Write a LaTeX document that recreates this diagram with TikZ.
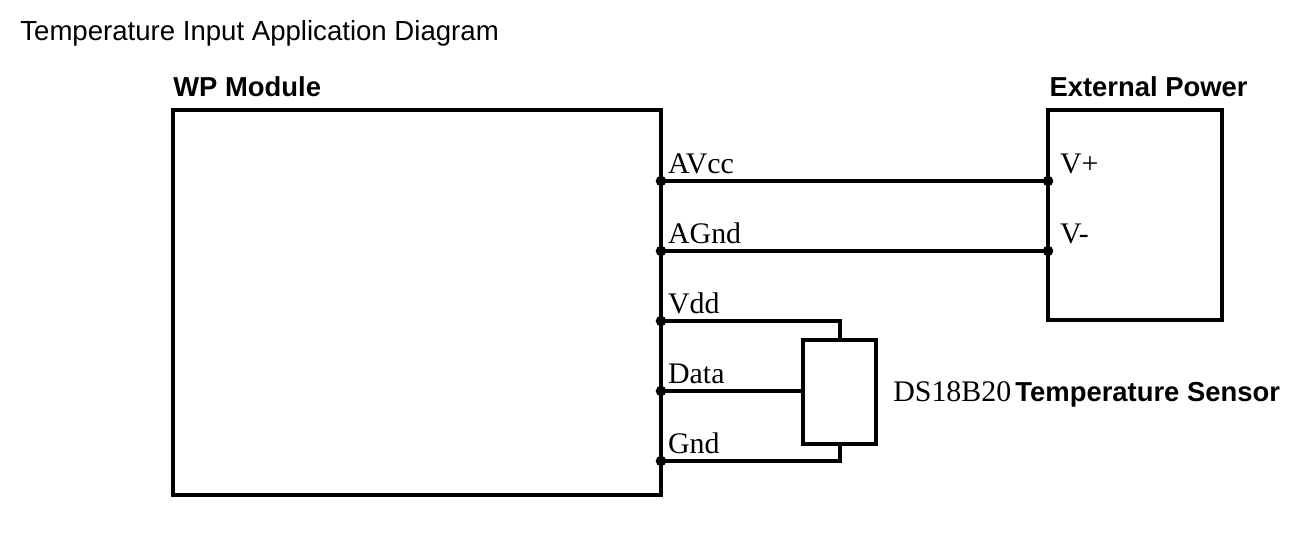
\documentclass[tikz,border=0pt]{standalone}
\usepackage{fontspec}
\setmainfont{Liberation Serif}
\newfontfamily\sansf{Liberation Sans}
\usetikzlibrary{positioning}

\tikzset{
  box/.style = {draw, line width=1.8pt, inner sep=0pt},
  wire/.style = {line width=1.8pt},
  pin/.style = {font=\fontsize{17}{19}\selectfont, anchor=south west, inner sep=1pt},
  dot/.style = {circle, fill, inner sep=0pt, minimum size=6pt},
  head/.style = {font=\sansf\bfseries\fontsize{15.6}{18}\selectfont, inner sep=0pt}
}

\begin{document}
\begin{tikzpicture}[x=0.2mm, y=-0.2mm]
    \useasboundingbox (0,0) rectangle (1302,554);
    \node [anchor=west, inner sep=0pt, font=\sansf\fontsize{15.7}{18}\selectfont] (title) at (20,33) {Temperature Input Application Diagram};

    % boxes
    \draw [box] (173,110) rectangle (661,495);
    \draw [box] (1048,110) rectangle (1222,320);
    \draw [box] (803,340) rectangle (876,444);
    \node [head, anchor=south west] (wp) at (173,97) {WP Module};
    \node [head, anchor=south east] (ext) at (1248,97) {External Power};

    % junctions on module edge
    \node [dot] (avcc) at (661,181) {};
    \node [dot] (agnd) at (661,251) {};
    \node [dot] (vdd)  at (661,321) {};
    \node [dot] (data) at (661,391) {};
    \node [dot] (gnd)  at (661,461) {};
    \node [dot] (vp)   at (1048,181) {};
    \node [dot] (vm)   at (1048,251) {};
    \coordinate (stop) at (840,340);
    \coordinate (sbot) at (840,444);
    \coordinate (sin)  at (803,391);

    \draw [wire] (avcc.center) -- (vp.center);
    \draw [wire] (agnd.center) -- (vm.center);
    \draw [wire] (vdd.center) -| (stop);
    \draw [wire] (data.center) -- (sin);
    \draw [wire] (gnd.center) -| (sbot);

    % labels
    \node [pin] at (666,176) {AVcc};
    \node [pin] at (666,246) {AGnd};
    \node [pin] at (666,316) {Vdd};
    \node [pin] at (666,386) {Data};
    \node [pin] at (666,456) {Gnd};
    \node [pin] at (1058,176) {V+};
    \node [pin] at (1058,246) {V-};
    \node [anchor=west, inner sep=0pt, font=\fontsize{17}{19}\selectfont] (ds) at (893,392) {DS18B20};
    \node [head, right=2pt of ds.base east, anchor=base west] {Temperature Sensor};
\end{tikzpicture}
\end{document}
